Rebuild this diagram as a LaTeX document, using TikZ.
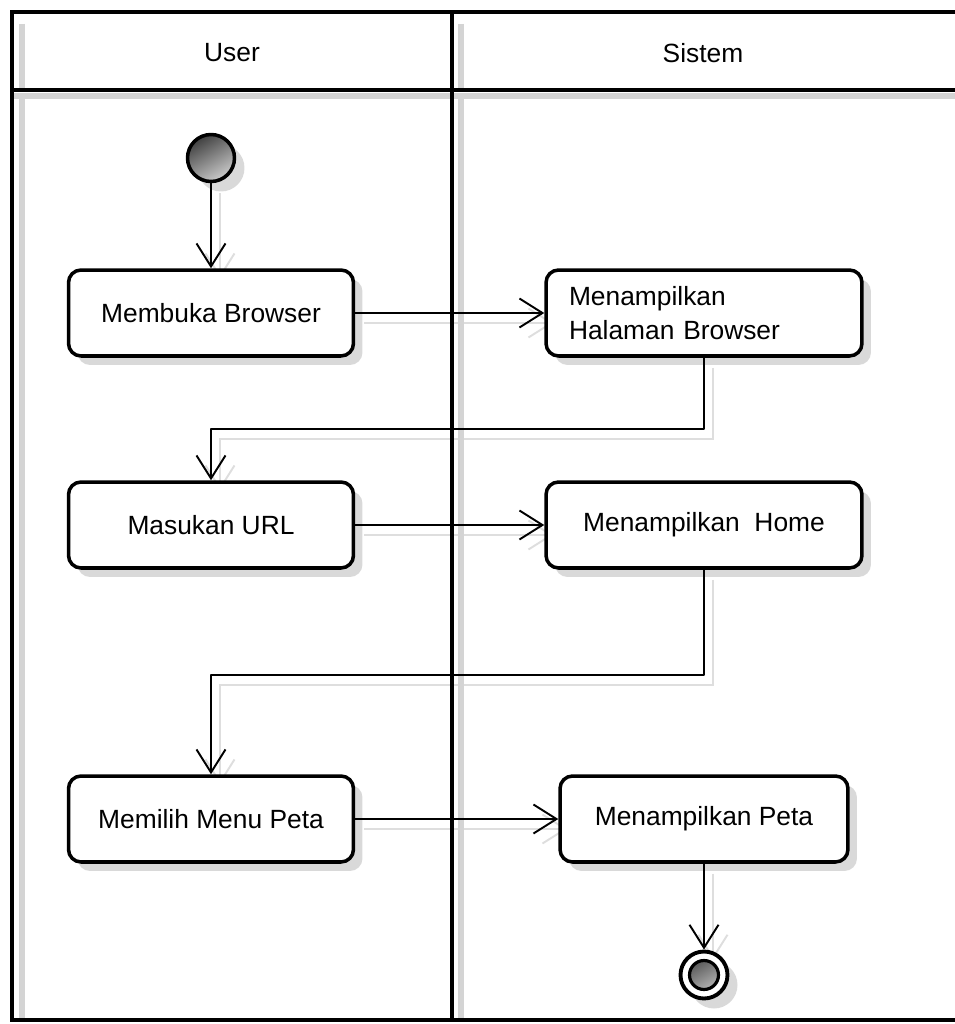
\documentclass[tikz,border=0pt]{standalone}
\usepackage{fontspec}
\setmainfont{Liberation Sans}
\usetikzlibrary{arrows.meta,backgrounds,calc,positioning,shadows}
\tikzset{
  every picture/.append style={line cap=round,line join=round},
  act font/.style={font=\fontsize{15}{19}\selectfont},
  act box/.style={act font,draw,line width=2pt,rounded corners=0.25cm,fill=white,
    minimum width=5.7cm,minimum height=1.72cm,inner sep=0pt,
    drop shadow={shadow xshift=0.18cm,shadow yshift=-0.18cm,fill=black!15,opacity=1}},
  act flow/.style={line width=1.1pt,-{Straight Barb[length=4.6mm,width=5.8mm,line width=1.1pt]}},
  act flow shadow/.style={act flow,black!13,transform canvas={shift={(0.18cm,-0.2cm)}}},
  act start/.style={circle,draw,line width=2pt,minimum size=0.94cm,inner sep=0pt,
    top color=black!75,bottom color=black!20,shading angle=30,
    drop shadow={shadow xshift=0.2cm,shadow yshift=-0.2cm,fill=black!15,opacity=1}},
  act end/.style={circle,draw,line width=2.2pt,minimum size=0.94cm,inner sep=0pt,fill=white,
    drop shadow={shadow xshift=0.2cm,shadow yshift=-0.2cm,fill=black!15,opacity=1},
    path picture={
      \draw[line width=1.8pt,top color=black!75,bottom color=black!20,shading angle=30]
        (path picture bounding box.center) circle (0.29cm);}},
  lane line/.style={line width=2.3pt,line cap=rect},
  lane shadow/.style={black!17,line width=3.2pt,line cap=butt},
  lane title/.style={act font}
}
\begin{document}
\begin{tikzpicture}[x=0.02cm,y=-0.02cm]
  \useasboundingbox (0,0) rectangle (955,1024);

  % swimlanes
  \draw[lane shadow] (22,97) -- (22,1018);
  \draw[lane shadow] (461,97) -- (461,1018);
  \draw[lane shadow] (22,24) -- (22,88);
  \draw[lane shadow] (461,24) -- (461,88);
  \draw[lane shadow,line width=3.8pt] (14,96) -- (955,96);
  \draw[lane line] (12,12) -- (955,12);
  \draw[lane line] (12,90) -- (955,90);
  \draw[lane line] (12,1020) -- (955,1020);
  \draw[lane line] (12,12) -- (12,1020);
  \draw[lane line] (452,12) -- (452,1020);
  \node[lane title] (userhead) at (232,53) {User};
  \node[lane title] (sistemhead) at (703,53) {Sistem};

  % actions
  \node[act start] (init) at (211,158) {};
  \node[act box] (buka) at (211,313) {Membuka Browser};
  \node[act box,minimum width=6.32cm,text width=5.4cm,align=left]
    (tampilbrowser) at (704,313) {Menampilkan\\Halaman Browser};
  \node[act box] (url) at (211,525) {Masukan URL};
  \node[act box,minimum width=6.32cm] (tampilhome) at (704,525) {Menampilkan\ \ Home};
  \node[act box] (menu) at (211,819) {Memilih Menu Peta};
  \node[act box,minimum width=5.76cm] (tampilpeta) at (704,819) {Menampilkan Peta};
  \node[act end] (fin) at (704,975) {};

  % flows
  \begin{scope}[on background layer]
    \draw[act flow shadow] (init) -- (buka);
    \draw[act flow shadow] (buka) -- (tampilbrowser);
    \draw[act flow shadow] (tampilbrowser.south) -- ++(0,71) -| (url.north);
    \draw[act flow shadow] (url) -- (tampilhome);
    \draw[act flow shadow] (tampilhome.south) -- ++(0,105) -| (menu.north);
    \draw[act flow shadow] (menu) -- (tampilpeta);
    \draw[act flow shadow] (tampilpeta) -- (fin);
  \end{scope}
  \draw[act flow] (init) -- (buka);
  \draw[act flow] (buka) -- (tampilbrowser);
  \draw[act flow] (tampilbrowser.south) -- ++(0,71) -| (url.north);
  \draw[act flow] (url) -- (tampilhome);
  \draw[act flow] (tampilhome.south) -- ++(0,105) -| (menu.north);
  \draw[act flow] (menu) -- (tampilpeta);
  \draw[act flow] (tampilpeta) -- (fin);
\end{tikzpicture}
\end{document}
